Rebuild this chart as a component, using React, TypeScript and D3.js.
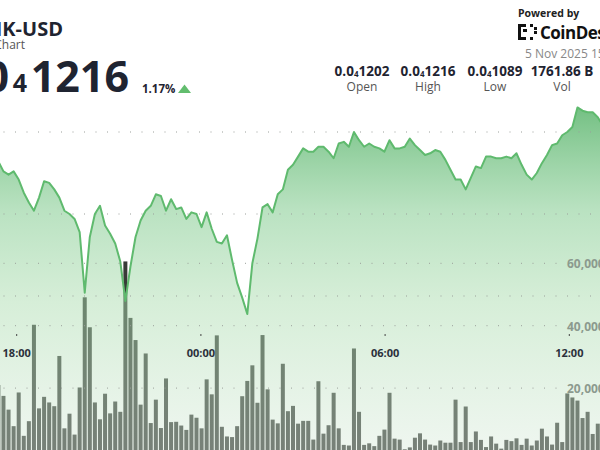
import React from 'react';
import * as d3 from 'd3';

const W = 600;
const H = 450;

// 10-minute samples; index 4 is 18:00 on 4 Nov 2025
const closeE8 = [
  1182, 1176, 1174, 1176, 1171, 1163, 1157, 1152, 1160, 1170,
  1169, 1165, 1160, 1152, 1150, 1147, 1139, 1102, 1136, 1150,
  1155, 1143, 1138, 1132, 1121, 1097, 1118, 1136, 1146, 1152,
  1155, 1162, 1161, 1152, 1159, 1153, 1154, 1147, 1151, 1150,
  1142, 1151, 1141, 1133, 1132, 1137, 1122, 1108, 1099, 1089,
  1120, 1135, 1154, 1156, 1151, 1162, 1165, 1177, 1180, 1185,
  1190, 1188, 1188, 1191, 1191, 1188, 1184, 1193, 1194, 1191,
  1200, 1195, 1191, 1193, 1191, 1190, 1188, 1195, 1190, 1190,
  1191, 1196, 1192, 1189, 1186, 1187, 1189, 1188, 1183, 1177,
  1171, 1171, 1165, 1172, 1179, 1178, 1185, 1185, 1184, 1184,
  1185, 1184, 1187, 1180, 1174, 1171, 1175, 1181, 1186, 1192,
  1193, 1198, 1200, 1203, 1215, 1213, 1212, 1212, 1209, 1204,
];

const volume = [
  21000, 17500, 13100, 7800, 18600, 4700, 9400, 40300, 13500, 17200,
  15400, 14200, 30300, 7100, 11800, 5100, 20200, 49100, 39500, 15400,
  10000, 18200, 11900, 15700, 12400, 60600, 42500, 35400, 14700, 31100,
  8800, 16300, 7200, 23100, 9100, 9200, 8000, 6600, 11500, 10500,
  7100, 22800, 18000, 36900, 7600, 4500, 4300, 7800, 17400, 22300,
  27300, 15300, 37000, 19600, 9900, 8700, 27800, 12600, 14300, 8600,
  9500, 9500, 3500, 22200, 5400, 8100, 18500, 7100, 1800, 1600,
  32700, 12400, 1800, 2300, 1400, 4700, 6700, 18500, 3800, 3500,
  400, 1000, 4100, 5500, 3500, 1900, 1600, 3200, 2500, 2500,
  16300, 2700, 14100, 2700, 6100, 3400, 1100, 4500, 2200, 600,
  3400, 3000, 3900, 1800, 3800, 1600, 3200, 7000, 4500, 1900,
  8900, 2700, 18300, 17000, 16000, 10400, 12400, 5300, 8600, 10000,
];

const priceTicks = [1100, 1150, 1200];
const volumeTicks = [20000, 40000, 60000];
const timeTicks = [
  new Date(2025, 10, 4, 18),
  new Date(2025, 10, 5, 0),
  new Date(2025, 10, 5, 6),
  new Date(2025, 10, 5, 12),
];

const statLabels = ['Open', 'High', 'Low', 'Vol'];
const statValues = ['0.0₄1202', '0.0₄1216', '0.0₄1089', '1761.86 B'];
const statCenters = [362, 428, 495, 562];

const FONT = "'Open Sans', 'Noto Sans', sans-serif";
const DARK = '#1f2431';

function SubNum({ value, subSize, dy }: { value: string; subSize: number; dy: number }) {
  const parts = value.split('₄');
  if (parts.length < 2) return <>{value}</>;
  return (
    <>
      {parts[0]}
      <tspan fontSize={subSize} dy={dy}>4</tspan>
      <tspan dy={-dy}>{parts[1]}</tspan>
    </>
  );
}

export default function App() {
  const xIdx = d3.scaleLinear().domain([4, 112]).range([18.7, 567.3]);
  const xTime = d3.scaleTime().domain([timeTicks[0], timeTicks[3]]).range([16.7, 569.3]);
  const yPrice = d3.scaleLinear().domain([1100, 1200]).range([296, 132]);
  const yVol = d3.scaleLinear().domain([0, 60000]).range([450.5, 263.3]);
  const fmtTime = d3.timeFormat('%H:%M');
  const fmtVol = d3.format(',');

  const line = d3
    .line<number>()
    .x((_, i) => xIdx(i))
    .y((d) => yPrice(d));
  const area = d3
    .area<number>()
    .x((_, i) => xIdx(i))
    .y0(yVol(0))
    .y1((d) => yPrice(d));

  const barW = 4;
  const topY = yPrice(d3.max(closeE8) as number);

  return (
    <svg
      width={W}
      height={H}
      viewBox={`0 0 ${W} ${H}`}
      style={{ position: 'fixed', left: 0, top: 0, background: '#fff', fontFamily: FONT }}
    >
      <defs>
        <linearGradient id="areaFill" gradientUnits="userSpaceOnUse" x1={0} y1={topY} x2={0} y2={H}>
          <stop offset="0" stopColor="rgb(72,172,92)" stopOpacity={0.76} />
          <stop offset="0.3" stopColor="rgb(135,205,148)" stopOpacity={0.58} />
          <stop offset="0.57" stopColor="rgb(168,219,172)" stopOpacity={0.47} />
          <stop offset="1" stopColor="rgb(214,233,216)" stopOpacity={0.4} />
        </linearGradient>
        <clipPath id="plot">
          <rect x={0} y={0} width={W} height={H} />
        </clipPath>
      </defs>
      <rect x={0} y={0} width={W} height={H} fill="#fff" />

      <g clipPath="url(#plot)">
        {/* volume bars (underneath the translucent area) */}
        {volume.map((v, i) => (
          <rect
            key={'b' + i}
            x={xIdx(i) - barW / 2}
            y={yVol(v)}
            width={barW}
            height={yVol(0) - yVol(v)}
            fill="#383b38"
          />
        ))}

        {/* price area */}
        <path d={area(closeE8) || ''} fill="url(#areaFill)" />

        {/* price grid */}
        {priceTicks.map((p) => (
          <line
            key={'pg' + p}
            x1={3.5}
            x2={W}
            y1={yPrice(p)}
            y2={yPrice(p)}
            stroke="#9a9f9a"
            strokeWidth={1}
            strokeDasharray="1 10.5"
          />
        ))}
        {/* volume grid */}
        {volumeTicks.map((v) => (
          <line
            key={'vg' + v}
            x1={3.5}
            x2={560}
            y1={yVol(v)}
            y2={yVol(v)}
            stroke="#9a9f9a"
            strokeWidth={1}
            strokeDasharray="1 10.5"
          />
        ))}

        {/* price line */}
        <path d={line(closeE8) || ''} fill="none" stroke="#5fba6e" strokeWidth={2} strokeLinejoin="round" />

        {/* volume axis labels */}
        {volumeTicks.map((v) => (
          <text
            key={'vl' + v}
            x={567}
            y={yVol(v) + 5}
            fontSize={12}
            fontWeight={700}
            fill="#8c9a8e"
          >
            {fmtVol(v)}
          </text>
        ))}

        {/* time axis */}
        {timeTicks.map((t) => (
          <g key={'t' + t.getTime()}>
            <line x1={xTime(t)} x2={xTime(t)} y1={334} y2={336} stroke="#444" strokeWidth={1} />
            <text
              x={xTime(t)}
              y={357}
              textAnchor="middle"
              fontSize={11}
              fontWeight={700}
              fill="#2b303b"
            >
              {fmtTime(t)}
            </text>
          </g>
        ))}

        {/* header */}
        <text x={63} y={36} textAnchor="end" fontSize={20} fontWeight={700} fill={DARK}>
          BONK-USD
        </text>
        <text x={25} y={49} textAnchor="end" fontSize={12} fill="#555">
          Price Chart
        </text>
        <text y={92} textAnchor="end" fontSize={43} fontWeight={700} fill={DARK}>
          <tspan x={9}>0.0</tspan>
          <tspan x={27} fontSize={25}>4</tspan>
          <tspan x={129}>1216</tspan>
        </text>
        <text x={142} y={93} fontSize={11.5} fontWeight={700} fill={DARK}>
          1.17%
        </text>
        <path d="M178,93 L191,93 L184.5,84.5 Z" fill="#62bd6e" />

        {statLabels.map((l, i) => (
          <g key={'s' + l}>
            <text x={statCenters[i]} y={76} textAnchor="middle" fontSize={13.5} fontWeight={700} fill={DARK}>
              <SubNum value={statValues[i]} subSize={8} dy={0.5} />
            </text>
            <text x={statCenters[i]} y={91} textAnchor="middle" fontSize={12} fill="#555">
              {l}
            </text>
          </g>
        ))}

        <text x={518} y={17} fontSize={10.5} fontWeight={700} fill="#222">
          Powered by
        </text>
        <g fill="#111">
          <rect x={518} y={24} width={3} height={16} />
          <rect x={518} y={24} width={8} height={3} />
          <rect x={518} y={37} width={8} height={3} />
          <rect x={523} y={29} width={4} height={3} />
          <rect x={530} y={24} width={3} height={3} />
          <rect x={534} y={27} width={3} height={3} />
          <rect x={534} y={31} width={3} height={3} />
          <rect x={530} y={37} width={3} height={3} />
        </g>
        <text x={540} y={39} fontSize={17} fontWeight={700} fill="#111" letterSpacing={-0.5}>
          CoinDesk
        </text>
        <text x={525} y={58} fontSize={12} fill="#888">
          5 Nov 2025 15:35
        </text>
      </g>
    </svg>
  );
}
